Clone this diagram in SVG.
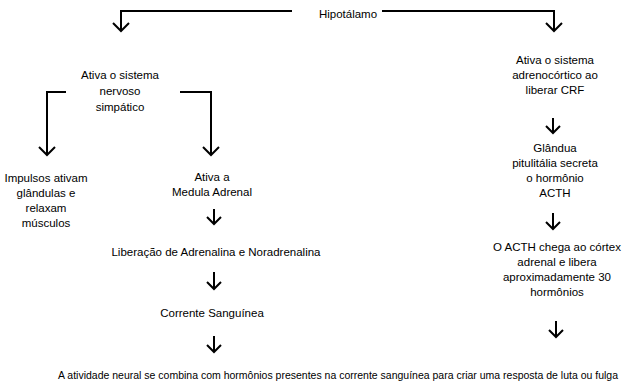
<svg xmlns="http://www.w3.org/2000/svg" width="627" height="386" viewBox="0 0 627 386">
<defs>
<style>
.t text{font-size:11.5px;fill:#000;text-anchor:middle}
.ln{fill:none;stroke:#000;stroke-width:2}
.ah{fill:none;stroke:#000;stroke-width:2;stroke-linejoin:miter}
</style>
</defs>
<rect width="627" height="386" fill="#fff"/>
<g id="connectors">
<path class="ln" d="M292,11 H121 V31"/>
<path class="ah" d="M113,23 L121,31 L129,23"/>
<path class="ln" d="M382,11 H554 V31"/>
<path class="ah" d="M546,23 L554,31 L562,23"/>
<path class="ln" d="M66,92 H47 V155"/>
<path class="ah" d="M39,147 L47,155 L55,147"/>
<path class="ln" d="M180,92 H211 V155"/>
<path class="ah" d="M203,147 L211,155 L219,147"/>
<path class="ln" d="M214,209 V224"/>
<path class="ah" d="M207,217 L214,224 L221,217"/>
<path class="ln" d="M214,272 V289"/>
<path class="ah" d="M207,282 L214,289 L221,282"/>
<path class="ln" d="M214,336 V352"/>
<path class="ah" d="M207,345 L214,352 L221,345"/>
<path class="ln" d="M553,118 V133"/>
<path class="ah" d="M546,126 L553,133 L560,126"/>
<path class="ln" d="M553,213 V229"/>
<path class="ah" d="M546,222 L553,229 L560,222"/>
<path class="ln" d="M556,321 V337"/>
<path class="ah" d="M549,330 L556,337 L563,330"/>
</g>
<g class="t" font-family="Liberation Sans, Arial, sans-serif">
<g id="hipotalamo"><text x="348" y="18" font-size="13">Hipotálamo</text></g>
<g id="simpatico"><text x="120" y="79">Ativa o sistema</text><text x="120" y="95">nervoso</text><text x="120" y="111">simpático</text></g>
<g id="impulsos"><text x="46" y="182">Impulsos ativam</text><text x="46" y="197">glândulas e</text><text x="46" y="212">relaxam</text><text x="46" y="227">músculos</text></g>
<g id="medula"><text x="212" y="181">Ativa a</text><text x="212" y="196">Medula Adrenal</text></g>
<g id="liberacao"><text x="216" y="256">Liberação de Adrenalina e Noradrenalina</text></g>
<g id="corrente"><text x="212" y="317">Corrente Sanguínea</text></g>
<g id="adrenocortico"><text x="555" y="64">Ativa o sistema</text><text x="555" y="79">adrenocórtico ao</text><text x="555" y="94">liberar CRF</text></g>
<g id="glandula"><text x="555" y="152">Glândua</text><text x="555" y="167">pitulitália secreta</text><text x="555" y="182">o hormônio</text><text x="555" y="197">ACTH</text></g>
<g id="acth"><text x="557" y="251">O ACTH chega ao córtex</text><text x="557" y="266">adrenal e libera</text><text x="557" y="281">aproximadamente 30</text><text x="557" y="296">hormônios</text></g>
<g id="resposta"><text x="338" y="379" font-size="10" textLength="560" lengthAdjust="spacingAndGlyphs">A atividade neural se combina com hormônios presentes na corrente sanguínea para criar uma resposta de luta ou fulga</text></g>
</g>
</svg>
